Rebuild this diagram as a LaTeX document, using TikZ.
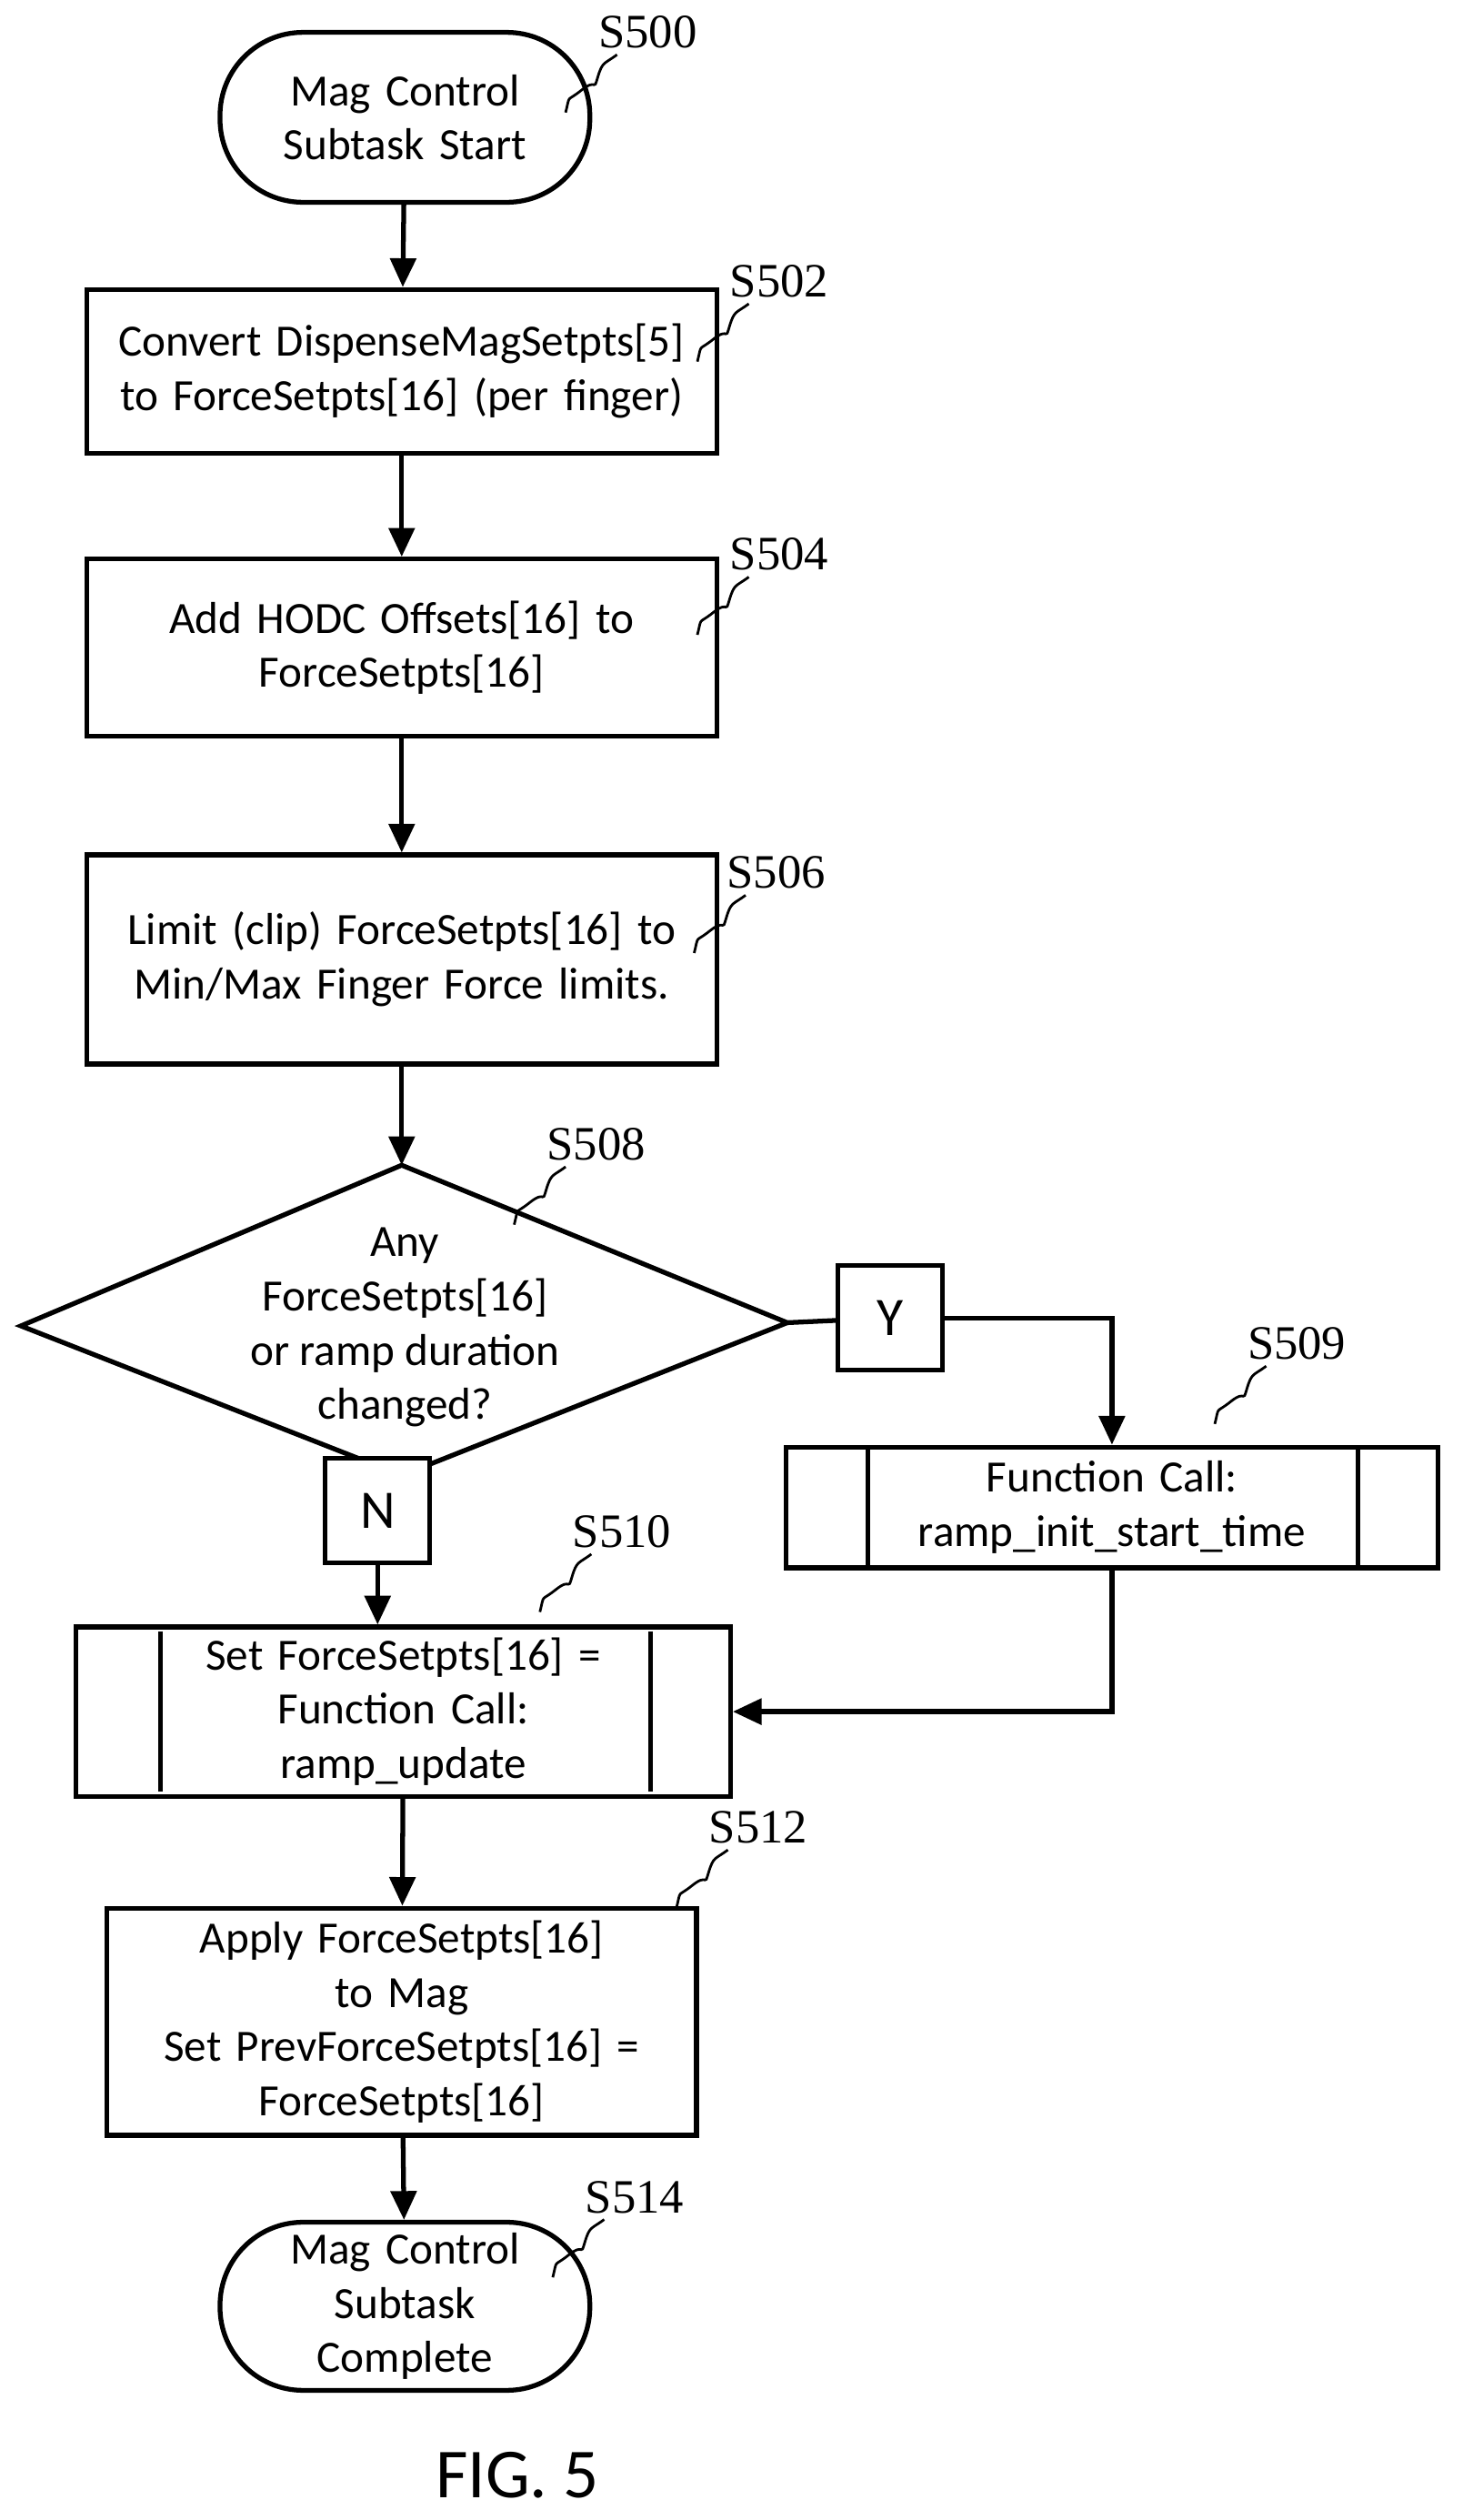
\documentclass[tikz,border=0pt]{standalone}
\usepackage{fontspec}
\setmainfont{Carlito}
\newfontfamily\stepfont{Liberation Serif}
\usetikzlibrary{positioning,arrows.meta,shapes.geometric}

\tikzset{
  flow/.style={line width=1.5pt},
  arr/.style={flow,-{Triangle[length=9pt,width=8pt]}},
  box/.style={draw,flow,minimum height=#1,text width=6.7cm,align=center,
    font=\fontsize{14}{17}\selectfont},
  term/.style={draw,flow,rounded corners=26pt,align=center,
    font=\fontsize{14}{17}\selectfont},
  yn/.style={draw,flow,minimum width=1.15cm,minimum height=1.15cm,
    font=\fontsize{17}{20}\selectfont},
  steplbl/.style={font=\stepfont\fontsize{15}{18}\selectfont},
  squig/.style={line width=0.8pt}
}
\newcommand{\wig}[1]{\draw[squig] (#1) ++(-20,18) .. controls +(3,-12) and +(-10,8) .. ++(10,-14)
  .. controls +(10,-8) and +(-3,10) .. ++(10,-8) .. controls +(3,-10) and +(-8,6) .. ++(12,-14);}

\begin{document}
\begin{tikzpicture}[x=0.01768cm,y=-0.01768cm]
\useasboundingbox (0,0) rectangle (910,1568);
% nodes
\node[term,minimum width=4.07cm,text width=3.4cm,minimum height=1.87cm] (s500) at (252,73) {Mag Control\\Subtask Start};
\node[box=1.8cm,minimum width=6.92cm] (s502) at (250,231) {Convert DispenseMagSetpts[5]\\to ForceSetpts[16] (per finger)};
\node[box=1.95cm,minimum width=6.92cm] (s504) at (250,403) {Add HODC Offsets[16] to\\ForceSetpts[16]};
\node[box=2.3cm,minimum width=6.92cm] (s506) at (250,597) {Limit (clip) ForceSetpts[16] to\\Min/Max Finger Force limits.};
\coordinate (dt) at (250,725);
\coordinate (dl) at (13,825);
\coordinate (dr) at (490,823);
\coordinate (db) at (250,918);
\draw[flow] (dt) -- (dr) -- (db) -- (dl) -- cycle;
\node[align=center,font=\fontsize{14}{17}\selectfont] (s508) at (252,826) {Any\\ForceSetpts[16]\\or ramp duration\\changed?};
\node[yn,fill=white] (y) at (554,820) {Y};
\node[yn,fill=white] (n) at (235,940) {N};
\node[box=1.33cm,minimum width=7.18cm,text width=5.2cm] (s509) at (692,938) {Function Call:\\ramp\_init\_start\_time};
\draw[flow] (540,900) -- (540,975) (845,900) -- (845,975);
\node[box=1.77cm,minimum width=7.2cm,text width=5.2cm] (s510) at (251,1065) {Set ForceSetpts[16] =\\Function Call:\\ramp\_update};
\draw[flow] (100,1015) -- (100,1115) (405,1015) -- (405,1115);
\node[box=2.5cm,minimum width=6.49cm,text width=6cm] (s512) at (250,1258) {Apply ForceSetpts[16]\\to Mag\\Set PrevForceSetpts[16] =\\ForceSetpts[16]};
\node[term,minimum width=4.07cm,text width=3.4cm,minimum height=1.79cm] (s514) at (252,1435) {Mag Control\\Subtask\\Complete};
\node[font=\fontsize{22}{26}\selectfont] (fig) at (322,1540) {FIG. 5};
% connectors
\draw[arr] (s500) -- (s502);
\draw[arr] (s502) -- (s504);
\draw[arr] (s504) -- (s506);
\draw[arr] (s506) -- (dt);
\draw[flow] (dr) -- (y);
\draw[arr] (y.east) -| (s509.north);
\draw[arr] (n) -- (s510.north -| n);
\draw[arr] (s509.south) |- (s510.east);
\draw[arr] (s510) -- (s512);
\draw[arr] (s512) -- (s514);
% step labels
\node[steplbl] (l500) at (403,20) {S500}; \wig{372,52}
\node[steplbl] (l502) at (485,175) {S502}; \wig{454,207}
\node[steplbl] (l504) at (485,345) {S504}; \wig{454,377}
\node[steplbl] (l506) at (483,543) {S506}; \wig{452,575}
\node[steplbl] (l508) at (371,712) {S508}; \wig{340,744}
\node[steplbl] (l509) at (807,836) {S509}; \wig{776,868}
\node[steplbl] (l510) at (387,953) {S510}; \wig{356,985}
\node[steplbl] (l512) at (472,1137) {S512}; \wig{441,1169}
\node[steplbl] (l514) at (395,1367) {S514}; \wig{364,1399}
\end{tikzpicture}
\end{document}
